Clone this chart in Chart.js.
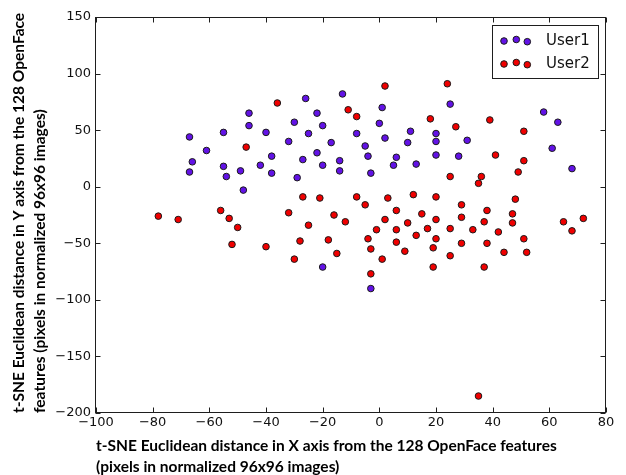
<!DOCTYPE html>
<html><head><meta charset="utf-8">
<script src="https://cdn.jsdelivr.net/npm/chart.js@4.4.1/dist/chart.umd.min.js"></script>
<style>html,body{margin:0;padding:0;background:#fff;}#wrap{width:626px;height:475px;}</style>
</head><body><div id="wrap"><canvas id="c" width="626" height="475"></canvas></div>
<script>
const xTicks = [-100, -80, -60, -40, -20, 0, 20, 40, 60, 80];
const yTicks = [-200, -150, -100, -50, 0, 50, 100, 150];
const seriesNames = ['User1', 'User2'];
const xTitle = ['t-SNE Euclidean distance in X axis from the 128 OpenFace features', '(pixels in normalized 96x96 images)'];
const yTitle = ['t-SNE Euclidean distance in Y axis from the 128 OpenFace', 'features (pixels in normalized 96x96 images)'];

const user1X = [-46, -46, -67, -55, -40, -61, -66, -67, -55, -54, -49, -42, -48,
  -26, -13, -22, 1, -30, -20, 0, -25, -8, 11, 20, -32, -17, 2, 10, 20, -5, -38, -22, -27, -14, -4, 6, 20, -20, -14, 5, 13, -38, -29, -3,
  25, 58, 63, 31, 61, 28, 68, -20, -3];
const user1Y = [65, 54, 44, 48, 48, 32, 22, 13, 18, 9, 14, 19, -3,
  78, 82, 65, 70, 57, 54, 56, 47, 47, 49, 47, 40, 39, 43, 39, 40, 36, 27, 30, 24, 23, 27, 26, 28, 19, 14, 19, 20, 12, 8, 12,
  73, 66, 57, 41, 34, 27, 16, -71, -90];

const user2X = [-47, -36, 2, -11, -8, 18, -27, -21, -8, 3, 12, 20,
  24, 39, 27, 51, 41, 51, 25, 36, 35, 49, 48,
  -78, -71, -56, -53, -50, -52, -40,
  -5, -32, -16, 6, 15, -25, -12, 2, 10, 20, -1, 6, 17, -28, -18, -4, 6, 13, 20, -15, -3, 9, 19, -30, 1, 19, -3,
  29, 38, 47, 29, 37, 47, 25, 33, 42, 65, 72, 68, 29, 38, 51, 44, 52, 25, 37,
  35];
const user2Y = [35, 74, 89, 68, 62, 60, -9, -10, -9, -10, -7, -9,
  91, 59, 53, 49, 28, 23, 9, 9, 3, 13, -11,
  -26, -29, -21, -28, -36, -51, -53,
  -16, -23, -25, -21, -24, -34, -31, -29, -32, -29, -38, -38, -37, -48, -47, -46, -49, -43, -46, -59, -55, -57, -54, -64, -64, -71, -77,
  -16, -21, -24, -27, -31, -32, -37, -38, -40, -31, -28, -39, -50, -50, -46, -58, -58, -61, -71,
  -185];

const seriesColors = ['#6212e6', '#f00000'];

function pts(xs, ys) { return xs.map((v, i) => ({ x: v, y: ys[i] })); }
const fmt = v => (v < 0 ? '\u2212' + Math.abs(v) : String(v));

const framePlugin = {
  id: 'frame',
  beforeDatasetsDraw(chart) {
    const { ctx, chartArea: a, scales: { x, y } } = chart;
    ctx.save();
    ctx.strokeStyle = '#1e1e1e';
    ctx.lineWidth = 1;
    const L = Math.round(a.left) - 0.5, R = Math.round(a.right) - 0.5, T = Math.round(a.top) + 0.5, B = Math.round(a.bottom) - 0.5;
    ctx.strokeRect(L, T, R - L, B - T);
    ctx.beginPath();
    xTicks.forEach(v => {
      const p = Math.round(x.getPixelForValue(v)) + 0.5;
      ctx.moveTo(p, B); ctx.lineTo(p, B - 5);
      ctx.moveTo(p, T); ctx.lineTo(p, T + 5);
    });
    yTicks.forEach(v => {
      const p = Math.round(y.getPixelForValue(v)) + 0.5;
      ctx.moveTo(L, p); ctx.lineTo(L + 5, p);
      ctx.moveTo(R, p); ctx.lineTo(R - 5, p);
    });
    ctx.stroke();
    ctx.restore();
  }
};

const legendPlugin = {
  id: 'innerLegend',
  afterDraw(chart) {
    const { ctx, chartArea: a } = chart;
    const bx = Math.round(a.right) - 113.5, by = Math.round(a.top) + 8.5, bw = 106, bh = 53;
    ctx.save();
    ctx.fillStyle = '#fff';
    ctx.fillRect(bx, by, bw, bh);
    ctx.strokeStyle = '#1e1e1e';
    ctx.lineWidth = 1;
    ctx.strokeRect(bx, by, bw, bh);
    const offs = [[0, 15.5], [12.3, 14.0], [23.3, 16.2]];
    chart.data.datasets.forEach((ds, i) => {
      const rowY = by + i * 23;
      offs.forEach(o => {
        ctx.beginPath();
        ctx.arc(bx + 11.5 + o[0], rowY + o[1], ds.pointRadius, 0, Math.PI * 2);
        ctx.fillStyle = ds.backgroundColor;
        ctx.fill();
        ctx.lineWidth = ds.borderWidth;
        ctx.strokeStyle = ds.borderColor;
        ctx.stroke();
      });
      ctx.fillStyle = '#111';
      ctx.font = '15px "DejaVu Sans"';
      ctx.textBaseline = 'middle';
      ctx.textAlign = 'left';
      ctx.fillText(ds.label, bx + 53.5, rowY + 15.5);
    });
    ctx.restore();
  }
};

new Chart(document.getElementById('c'), {
  type: 'scatter',
  data: {
    datasets: [
      { label: seriesNames[0], data: pts(user1X, user1Y), backgroundColor: seriesColors[0], borderColor: '#1a1a1a', borderWidth: 1, pointRadius: 3.3, pointHoverRadius: 3.3 },
      { label: seriesNames[1], data: pts(user2X, user2Y), backgroundColor: seriesColors[1], borderColor: '#1a1a1a', borderWidth: 1, pointRadius: 3.3, pointHoverRadius: 3.3 }
    ]
  },
  options: {
    responsive: false,
    animation: false,
    devicePixelRatio: 1,
    layout: { padding: { left: 0, right: 20, top: 17, bottom: 0 } },
    plugins: { legend: { display: false }, tooltip: { enabled: false } },
    scales: {
      x: {
        type: 'linear', min: xTicks[0], max: xTicks[xTicks.length - 1],
        afterBuildTicks: s => { s.ticks = xTicks.map(v => ({ value: v })); },
        afterFit: s => { s.height = 62; },
        grid: { display: false, drawTicks: false },
        border: { display: false },
        ticks: { padding: 2, color: '#111', font: { family: '"DejaVu Sans"', size: 13 }, callback: v => fmt(v), maxRotation: 0, autoSkip: false },
        title: { display: true, text: xTitle, align: 'start', color: '#000', padding: { top: 0, bottom: -2 }, font: { family: 'Lato', weight: 'bold', size: 15.5, lineHeight: '21px' } }
      },
      y: {
        type: 'linear', min: yTicks[0], max: yTicks[yTicks.length - 1],
        afterBuildTicks: s => { s.ticks = yTicks.map(v => ({ value: v })); },
        afterFit: s => { s.width = 96; },
        grid: { display: false, drawTicks: false },
        border: { display: false },
        ticks: { padding: 5, color: '#111', font: { family: '"DejaVu Sans"', size: 13 }, callback: v => fmt(v), autoSkip: false },
        title: { display: true, text: yTitle, align: 'start', color: '#000', padding: { top: 8, bottom: 0 }, font: { family: 'Lato', weight: 'bold', size: 15.5, lineHeight: '21.5px' } }
      }
    }
  },
  plugins: [framePlugin, legendPlugin]
});
</script>
</body></html>
